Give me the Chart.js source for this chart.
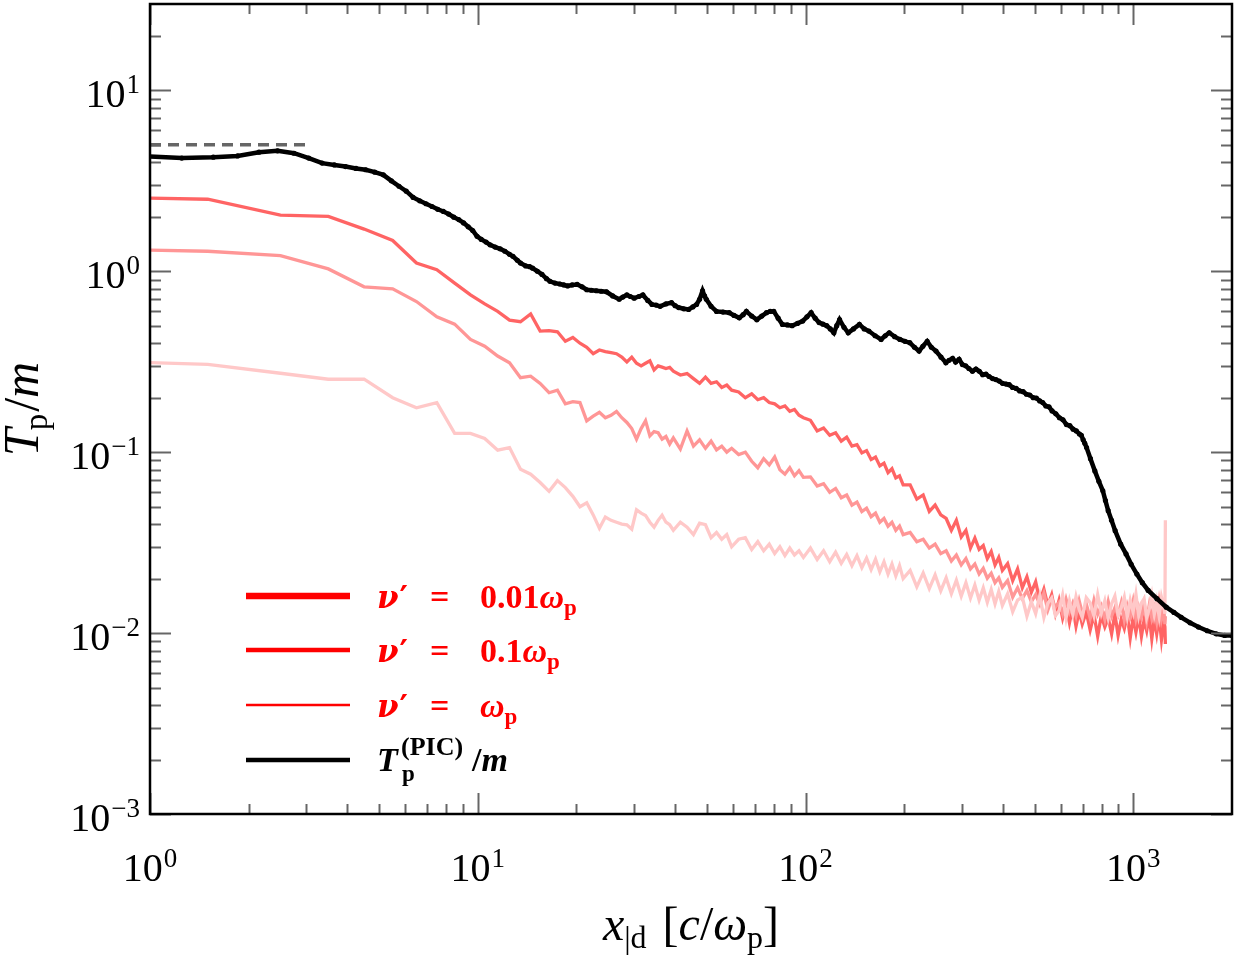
<!DOCTYPE html>
<html>
<head>
<meta charset="utf-8">
<script src="https://cdn.jsdelivr.net/npm/chart.js@4.4.0/dist/chart.umd.min.js"></script>
<style>
  html, body { margin: 0; padding: 0; background: #fff; }
  #wrap { width: 1236px; height: 957px; }
</style>
</head>
<body>
<div id="wrap"><canvas id="tempChart" width="1236" height="957"></canvas></div>
<script>
// x positions shared by the three collisional runs [c/omega_p]
const xGrid = [
  0.5, 1.5, 2.5, 3.5, 4.5, 5.5, 6.5, 7.5, 8.5, 9.5,
  10.5, 11.5, 12.5, 13.5, 14.5, 15.5, 16.5, 17.5, 18.5, 19.5,
  20.5, 21.5, 22.5, 23.5, 24.5, 25.5, 26.5, 27.5, 28.5, 29.5,
  30.5, 31.5, 32.5, 33.5, 34.5, 35.5, 36.5, 37.5, 38.5, 39.5,
  41.5, 43.5, 45.5, 47.5, 49.5, 51.5, 53.5, 55.5, 57.5, 59.5,
  62.5, 65.5, 68.5, 71.5, 74.5, 77.5, 80.5, 83.5, 86.5, 89.5, 92.5, 95.5, 98.5,
  103.5, 108.5, 113.5, 118.5, 123.5, 128.5, 133.5, 138.5, 143.5, 148.5,
  153.5, 158.5, 163.5, 168.5, 173.5, 178.5, 183.5, 188.5, 193.5, 198.5,
  208.5, 218.5, 228.5, 238.5, 248.5, 258.5, 268.5, 278.5, 288.5, 298.5,
  308.5, 318.5, 328.5, 338.5, 348.5, 358.5, 368.5, 378.5, 388.5, 398.5,
  413.5, 428.5, 443.5, 458.5, 473.5, 488.5, 503.5, 518.5, 533.5, 548.5,
  563.5, 578.5, 593.5, 608.5, 623.5, 638.5, 653.5, 668.5, 683.5, 698.5,
  718.5, 738.5, 758.5, 778.5, 798.5, 818.5, 838.5, 858.5, 878.5,
  898.5, 918.5, 938.5, 958.5, 978.5, 998.5, 1018.5, 1038.5, 1058.5,
  1078.5, 1098.5, 1118.5, 1138.5, 1158.5, 1178.5, 1198.5, 1218.5, 1238.5,
  1248.5, 1252.5
];

// T_p/m for nu' = 0.01 omega_p
const tNu001 = [
  2.6, 2.5, 2.04, 2.01, 1.71, 1.48, 1.11, 1.02, 0.86, 0.74,
  0.66, 0.6, 0.537, 0.526, 0.58, 0.467, 0.47, 0.463, 0.41, 0.43,
  0.4, 0.38, 0.35, 0.367, 0.36, 0.355, 0.35, 0.335, 0.315, 0.335,
  0.31, 0.3, 0.31, 0.32, 0.285, 0.3, 0.295, 0.29, 0.294, 0.28,
  0.267, 0.272, 0.255, 0.24, 0.26, 0.24, 0.245, 0.228, 0.235, 0.22,
  0.215, 0.2, 0.21, 0.195, 0.2, 0.188, 0.185, 0.176, 0.18, 0.168, 0.172, 0.16, 0.155,
  0.15, 0.131, 0.136, 0.124, 0.128, 0.115, 0.121, 0.108, 0.11, 0.099,
  0.102, 0.091, 0.094, 0.084, 0.087, 0.077, 0.081, 0.072, 0.074, 0.066,
  0.066, 0.055, 0.058, 0.047, 0.051, 0.045, 0.043, 0.037, 0.042, 0.034,
  0.037, 0.0295, 0.0335, 0.029, 0.0305, 0.0258, 0.0282, 0.0238, 0.0262, 0.0222,
  0.0242, 0.0195, 0.0226, 0.0178, 0.0205, 0.0168, 0.0192, 0.0151, 0.0175, 0.0142,
  0.0163, 0.0128, 0.0152, 0.0121, 0.0143, 0.0114, 0.0139, 0.0109, 0.0132, 0.0112,
  0.0131, 0.0104, 0.0127, 0.0096, 0.0125, 0.0108, 0.0121, 0.0099, 0.0128,
  0.0097, 0.0119, 0.0106, 0.0126, 0.0094, 0.0122, 0.0101, 0.0124, 0.0096,
  0.0118, 0.0103, 0.0125, 0.0093, 0.012, 0.0099, 0.0123, 0.0092, 0.0117,
  0.0108, 0.0087
];

// T_p/m for nu' = 0.1 omega_p
const tNu01 = [
  1.34, 1.29, 1.22, 1.03, 0.82, 0.8, 0.68, 0.56, 0.51, 0.42,
  0.385, 0.34, 0.312, 0.258, 0.263, 0.24, 0.213, 0.22, 0.185, 0.19,
  0.188, 0.149, 0.158, 0.166, 0.155, 0.16, 0.168, 0.155, 0.146, 0.135,
  0.118, 0.135, 0.149, 0.123, 0.13, 0.128, 0.118, 0.122, 0.111, 0.12,
  0.104, 0.131, 0.108, 0.117, 0.105, 0.115, 0.103, 0.108, 0.1, 0.105,
  0.097, 0.1, 0.089, 0.082, 0.092, 0.085, 0.094, 0.08, 0.0756, 0.082, 0.074, 0.079, 0.0726,
  0.073, 0.065, 0.067, 0.06, 0.063, 0.056, 0.058, 0.051, 0.053, 0.047,
  0.049, 0.044, 0.046, 0.041, 0.043, 0.039, 0.041, 0.037, 0.039, 0.035,
  0.036, 0.032, 0.033, 0.0295, 0.031, 0.0275, 0.0285, 0.025, 0.027, 0.0238,
  0.0258, 0.0226, 0.0241, 0.0212, 0.0228, 0.0201, 0.0214, 0.019, 0.0202, 0.0179,
  0.0195, 0.0158, 0.0178, 0.0155, 0.0172, 0.0149, 0.0163, 0.0144, 0.0166, 0.0134,
  0.0155, 0.0139, 0.0148, 0.0128, 0.0154, 0.0131, 0.0146, 0.0125, 0.0151, 0.0129,
  0.0145, 0.0121, 0.0152, 0.0127, 0.0141, 0.0119, 0.0149, 0.0124, 0.0138,
  0.0126, 0.0147, 0.0118, 0.0142, 0.0125, 0.015, 0.012, 0.0139, 0.0123,
  0.0146, 0.0117, 0.0143, 0.0121, 0.0137, 0.0116, 0.0148, 0.0119, 0.0135,
  0.0112, 0.0124
];

// T_p/m for nu' = omega_p
const tNu1 = [
  0.325, 0.306, 0.273, 0.253, 0.253, 0.2, 0.176, 0.188, 0.127, 0.127,
  0.119, 0.1025, 0.106, 0.0805, 0.0755, 0.068, 0.0607, 0.0696, 0.0637, 0.057,
  0.0499, 0.0525, 0.045, 0.038, 0.0438, 0.042, 0.041, 0.04, 0.0397, 0.0375,
  0.048, 0.046, 0.0447, 0.041, 0.0385, 0.042, 0.0448, 0.041, 0.0397, 0.037,
  0.041, 0.0385, 0.035, 0.0405, 0.0397, 0.0337, 0.036, 0.033, 0.035, 0.03,
  0.033, 0.0337, 0.029, 0.032, 0.0285, 0.031, 0.0275, 0.03, 0.0268, 0.0295, 0.027, 0.0285, 0.0262,
  0.0295, 0.0255, 0.0285, 0.0248, 0.028, 0.0243, 0.0272, 0.0236, 0.0268, 0.023,
  0.026, 0.0224, 0.0256, 0.0218, 0.0248, 0.0212, 0.0241, 0.0207, 0.0236, 0.02,
  0.0222, 0.018, 0.0215, 0.0176, 0.021, 0.0171, 0.0202, 0.0165, 0.0196, 0.016,
  0.019, 0.0156, 0.0184, 0.0152, 0.0178, 0.0148, 0.0174, 0.0145, 0.017, 0.0142,
  0.0165, 0.0131, 0.0152, 0.0158, 0.0124, 0.0149, 0.0128, 0.0161, 0.0122, 0.0146,
  0.0156, 0.0125, 0.0133, 0.0162, 0.0121, 0.0151, 0.0127, 0.0159, 0.0135, 0.0122,
  0.0157, 0.0147, 0.0124, 0.0163, 0.0129, 0.0151, 0.0121, 0.0145, 0.016,
  0.0126, 0.0138, 0.0158, 0.0123, 0.0152, 0.0131, 0.0164, 0.0125, 0.0147,
  0.0155, 0.0122, 0.0136, 0.0161, 0.0127, 0.015, 0.0124, 0.0158, 0.0139,
  0.0128, 0.042
];

// PIC temperature profile, [x, T_p/m]
const picPoints = [
  [0.98, 4.32], [1.25, 4.22], [1.56, 4.27], [1.85, 4.34], [2.15, 4.55], [2.45, 4.63], [2.75, 4.49], [3.05, 4.22], [3.35, 3.96], [3.65, 3.87],
  [3.95, 3.79], [4.25, 3.7], [4.55, 3.64], [4.85, 3.53], [5.15, 3.41], [5.45, 3.16], [5.75, 2.95], [6.05, 2.77], [6.35, 2.56], [6.65, 2.45],
  [6.95, 2.36], [7.25, 2.28], [7.55, 2.2], [7.85, 2.14], [8.15, 2.07], [8.45, 1.99], [8.75, 1.93], [9.05, 1.85], [9.35, 1.76], [9.65, 1.68],
  [9.95, 1.56], [10.25, 1.5], [10.6, 1.45], [10.9, 1.4], [11.3, 1.36], [11.7, 1.33], [12.1, 1.29], [12.5, 1.24], [12.8, 1.21], [13.2, 1.15],
  [13.5, 1.11], [14, 1.07], [14.4, 1.06], [14.7, 1.04], [15.2, 1.0], [15.7, 0.96], [16.2, 0.91], [16.6, 0.88], [17.2, 0.86], [17.8, 0.85],
  [18.3, 0.84], [18.8, 0.83], [19.4, 0.84], [20.1, 0.845], [20.8, 0.82], [21.5, 0.79], [22.2, 0.785], [23, 0.78], [23.8, 0.775], [24.7, 0.77],
  [25.8, 0.73], [27, 0.7], [27.7, 0.72], [28.5, 0.74], [29.2, 0.725], [30, 0.71], [31, 0.725], [31.9, 0.74], [33, 0.69], [34, 0.655],
  [35, 0.65], [36, 0.64], [37.5, 0.66], [39, 0.67], [40, 0.645], [41, 0.63], [42.5, 0.62], [44, 0.615], [45.3, 0.635], [46.5, 0.655],
  [47.5, 0.7], [48.5, 0.78], [49.2, 0.73], [49.8, 0.7], [51.5, 0.64], [53.5, 0.6], [56, 0.595], [58.5, 0.59], [60.5, 0.57], [62.8, 0.553],
  [64.5, 0.575], [66, 0.6], [68.5, 0.565], [71, 0.54], [73.5, 0.565], [76, 0.59], [78, 0.6], [80, 0.6], [82.5, 0.55], [85, 0.508],
  [88, 0.505], [91, 0.5], [94.5, 0.515], [98, 0.53], [101, 0.56], [104, 0.59], [107, 0.55], [110, 0.52], [113, 0.51], [116, 0.5],
  [119, 0.48], [122, 0.457], [124.5, 0.5], [127, 0.54], [131, 0.49], [135, 0.457], [140, 0.48], [146, 0.508], [151, 0.48], [156, 0.467],
  [163, 0.44], [170, 0.42], [175, 0.44], [180, 0.457], [187, 0.435], [194, 0.42], [201, 0.41], [208, 0.403], [215, 0.38], [222, 0.362],
  [228, 0.385], [235, 0.41], [242, 0.38], [250, 0.362], [259, 0.335], [268, 0.312], [274, 0.322], [281, 0.33], [287, 0.315], [294, 0.326],
  [301, 0.305], [308, 0.3], [315, 0.29], [323, 0.28], [331, 0.288], [339, 0.28], [347, 0.268], [355, 0.27], [363, 0.262], [372, 0.255],
  [381, 0.252], [390, 0.247], [399, 0.24], [409, 0.238], [418, 0.236], [428, 0.228], [439, 0.225], [450, 0.218], [461, 0.216], [472, 0.209],
  [483, 0.207], [495, 0.2], [506, 0.199], [518, 0.192], [529, 0.188], [541, 0.18], [553, 0.178], [565, 0.169], [580, 0.163], [595, 0.155],
  [610, 0.151], [625, 0.142], [640, 0.14], [655, 0.134], [670, 0.131], [685, 0.126], [694, 0.124], [703, 0.117], [711, 0.112], [720, 0.106],
  [740, 0.092], [763, 0.0788], [785, 0.069], [807, 0.0612], [822, 0.054], [838, 0.0475], [858, 0.042], [880, 0.0368], [915, 0.031], [950, 0.0274],
  [985, 0.024], [1025, 0.0212], [1065, 0.019], [1110, 0.0172], [1180, 0.0155], [1260, 0.0139], [1330, 0.013], [1400, 0.0122], [1490, 0.0114], [1580, 0.0108],
  [1680, 0.0103], [1790, 0.0099], [1900, 0.0097], [2000, 0.0097]
];

// upstream reference level (dashed)
const refX = [1, 3];
const refT = [5, 5];

const xDecades = [0, 1, 2, 3];
const yDecades = [-3, -2, -1, 0, 1];

const SERIF = '"Liberation Serif", "DejaVu Serif", serif';
const GREEK = '"DejaVu Serif", "Liberation Serif", serif';

function toPoints(xs, ys) {
  return xs.map((x, i) => ({ x: x, y: ys[i] }));
}

// draws a list of text runs one after the other, returns end x
function drawRuns(ctx, x, y, runs, measureOnly) {
  runs.forEach((r) => {
    if (r.at !== undefined) x = r.at;
    x += r.pre || 0;
    ctx.font = r.font;
    if (!measureOnly) ctx.fillText(r.text, x, y + (r.dy || 0));
    x += ctx.measureText(r.text).width + (r.post || 0);
  });
  return x;
}

function drawPow(ctx, exp, x, y, align) {
  const sup = exp < 0 ? "\u2212" + -exp : String(exp);
  const runs = [
    { text: "10", font: "40px " + SERIF },
    { text: sup, font: "27px " + SERIF, dy: -14, pre: 1 },
  ];
  const w = drawRuns(ctx, 0, 0, runs, true);
  const x0 = align === "right" ? x - w : x - w / 2;
  drawRuns(ctx, x0, y, runs);
}

const axesPlugin = {
  id: "axesPlugin",
  afterDatasetsDraw(chart) {
    const { ctx, chartArea: a } = chart;
    const xs = chart.scales.x;
    const ys = chart.scales.y;
    ctx.save();
    ctx.strokeStyle = "#666";
    ctx.lineWidth = 2;
    const seg = (x1, y1, x2, y2) => {
      ctx.beginPath();
      ctx.moveTo(x1, y1);
      ctx.lineTo(x2, y2);
      ctx.stroke();
    };
    for (let e = -1; e <= 4; e++) {
      for (let m = 1; m <= 9; m++) {
        const v = m * Math.pow(10, e);
        if (v >= xs.min * 0.999 && v < xs.max * 0.999) {
          const px = Math.round(xs.getPixelForValue(v)) + 0.5;
          const len = m === 1 ? 21 : 10;
          seg(px, a.bottom, px, a.bottom - len);
          seg(px, a.top, px, a.top + len);
        }
      }
    }
    for (let e = -4; e <= 2; e++) {
      for (let m = 1; m <= 9; m++) {
        const v = m * Math.pow(10, e);
        if (v >= ys.min * 0.999 && v < ys.max * 0.999) {
          const py = Math.round(ys.getPixelForValue(v)) + 0.5;
          const len = m === 1 ? 21 : 11;
          seg(a.left, py, a.left + len, py);
          seg(a.right, py, a.right - len, py);
        }
      }
    }
    ctx.strokeStyle = "#000";
    ctx.lineWidth = 2.5;
    ctx.strokeRect(a.left, a.top, a.right - a.left, a.bottom - a.top);

    // tick labels
    ctx.fillStyle = "#000";
    ctx.textBaseline = "alphabetic";
    xDecades.forEach((e) => {
      drawPow(ctx, e, xs.getPixelForValue(Math.pow(10, e)), 881, "center");
    });
    yDecades.forEach((e) => {
      drawPow(ctx, e, 140, ys.getPixelForValue(Math.pow(10, e)) + 17, "right");
    });

    // x title: x_|d [c/omega_p]
    const xt = [
      { text: "x", font: "italic 48px " + SERIF },
      { text: "|d", font: "32px " + SERIF, dy: 8 },
      { text: " [", font: "48px " + SERIF, pre: 4 },
      { text: "c", font: "italic 48px " + SERIF },
      { text: "/", font: "48px " + SERIF },
      { text: "\u03c9", font: "italic 48px " + SERIF },
      { text: "p", font: "32px " + SERIF, dy: 8 },
      { text: "]", font: "48px " + SERIF },
    ];
    const xw = drawRuns(ctx, 0, 0, xt, true);
    drawRuns(ctx, (a.left + a.right) / 2 - xw / 2, 940, xt);

    // y title: T_p/m
    const yt = [
      { text: "T", font: "italic 50px " + SERIF },
      { text: "p", font: "33px " + SERIF, dy: 9, pre: -2 },
      { text: "/", font: "50px " + SERIF, pre: 2 },
      { text: "m", font: "italic 50px " + SERIF },
    ];
    const yw = drawRuns(ctx, 0, 0, yt, true);
    ctx.save();
    ctx.translate(0, (a.top + a.bottom) / 2);
    ctx.rotate(-Math.PI / 2);
    drawRuns(ctx, -yw / 2, 38, yt);
    ctx.restore();
    ctx.restore();
  },
};

// legend rows: colour, line width, line y, text runs
function nuRuns(value) {
  const runs = [
    { text: "\u03bd", font: "italic bold 31px " + GREEK },
    { text: "\u2032", font: "bold 32px " + GREEK, pre: 1 },
    { text: "=", font: "bold 34px " + SERIF, at: 430 },
  ];
  if (value) runs.push({ text: value, font: "bold 34px " + SERIF, at: 480 });
  runs.push({ text: "\u03c9", font: "italic bold 34px " + SERIF, at: value ? undefined : 480 });
  runs.push({ text: "p", font: "bold 23px " + SERIF, dy: 7 });
  return runs;
}

const legendRows = [
  { color: "#ff0000", width: 6.5, y: 596, runs: nuRuns("0.01") },
  { color: "#ff0000", width: 4.5, y: 650, runs: nuRuns("0.1") },
  { color: "#ff0000", width: 2.5, y: 705, runs: nuRuns("") },
];

const legendPlugin = {
  id: "legendPlugin",
  afterDraw(chart) {
    const ctx = chart.ctx;
    ctx.save();
    ctx.textBaseline = "alphabetic";
    legendRows.forEach((row) => {
      ctx.strokeStyle = row.color;
      ctx.lineWidth = row.width;
      ctx.beginPath();
      ctx.moveTo(246, row.y);
      ctx.lineTo(350, row.y);
      ctx.stroke();
      ctx.fillStyle = row.color;
      drawRuns(ctx, 377, row.y + 12, row.runs);
    });
    // PIC row
    ctx.strokeStyle = "#000";
    ctx.lineWidth = 4.5;
    ctx.beginPath();
    ctx.moveTo(246, 760);
    ctx.lineTo(350, 760);
    ctx.stroke();
    ctx.fillStyle = "#000";
    ctx.font = "italic bold 34px " + SERIF;
    ctx.fillText("T", 377, 771);
    ctx.font = "bold 26px " + SERIF;
    ctx.fillText("(PIC)", 401, 755);
    ctx.font = "bold 23px " + SERIF;
    ctx.fillText("p", 402, 781);
    drawRuns(ctx, 472, 771, [
      { text: "/", font: "bold 34px " + SERIF },
      { text: "m", font: "italic bold 34px " + SERIF },
    ]);
    ctx.restore();
  },
};

const ctx = document.getElementById("tempChart").getContext("2d");

new Chart(ctx, {
  type: "line",
  data: {
    datasets: [
      {
        label: "PIC",
        data: picPoints.map((p) => ({ x: p[0], y: p[1] })),
        borderColor: "#000",
        backgroundColor: "#000",
        borderWidth: 4.5,
        pointRadius: 2.6,
        pointBorderWidth: 0,
        order: 0,
      },
      {
        label: "nu' = omega_p",
        data: toPoints(xGrid, tNu1),
        borderColor: "#ffc8c8",
        borderWidth: 3.3,
        pointRadius: 0,
        order: 1,
      },
      {
        label: "nu' = 0.1 omega_p",
        data: toPoints(xGrid, tNu01),
        borderColor: "#ff9696",
        borderWidth: 3.3,
        pointRadius: 0,
        order: 2,
      },
      {
        label: "nu' = 0.01 omega_p",
        data: toPoints(xGrid, tNu001),
        borderColor: "#ff6464",
        borderWidth: 3.3,
        pointRadius: 0,
        order: 3,
      },
      {
        label: "reference",
        data: toPoints(refX, refT),
        borderColor: "#666",
        borderWidth: 3.5,
        borderDash: [11, 7],
        pointRadius: 0,
        order: 4,
      },
    ],
  },
  options: {
    responsive: false,
    animation: false,
    devicePixelRatio: 1,
    layout: { padding: { left: 150, right: 3, top: 2, bottom: 143 } },
    plugins: {
      legend: { display: false },
      tooltip: { enabled: false },
    },
    elements: { line: { tension: 0 } },
    scales: {
      x: { type: "logarithmic", min: 1, max: 2000, display: false },
      y: { type: "logarithmic", min: 0.001, max: 30, display: false },
    },
  },
  plugins: [axesPlugin, legendPlugin],
});
</script>
</body>
</html>
